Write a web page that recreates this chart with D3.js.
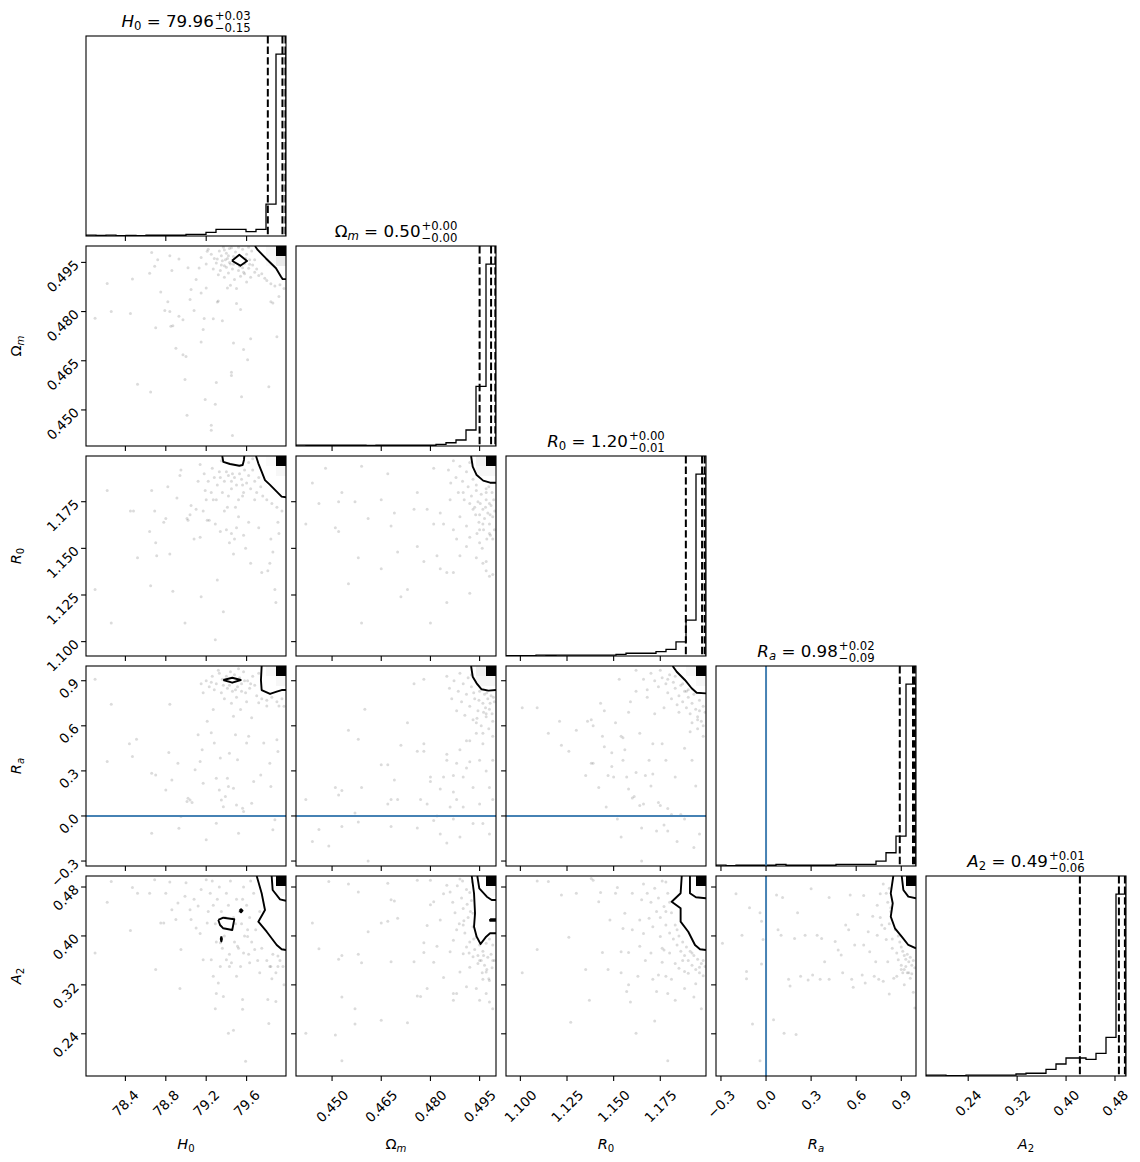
<!DOCTYPE html>
<html><head><meta charset="utf-8">
<script src="https://cdn.jsdelivr.net/npm/d3@7"></script>
<style>body{margin:0;background:#fff;} svg text{font-family:"DejaVu Sans",sans-serif;white-space:pre;}</style>
</head><body><svg id="c" width="1140" height="1162"></svg>
<script>
// ---------------- DATA ----------------
const paramNames = ["H0","Om","R0","Ra","A2"];
const ranges = [[78.01,79.99],[0.439,0.500],[1.0923,1.1995],[-0.333,0.998],[0.171,0.498]];
const tickValues = [[78.4,78.8,79.2,79.6],[0.450,0.465,0.480,0.495],[1.100,1.125,1.150,1.175],[-0.3,0.0,0.3,0.6,0.9],[0.24,0.32,0.40,0.48]];
const tickFormats = [".1f",".3f",".3f",".1f",".2f"];
const truths = [null,null,null,0.0,null];

// histogram counts (20 bins, relative)
const hist_H0 = [5,3,5,2,3,2,4,4,4,4,9,9,20,36,36,36,24,36,175,1000];
const hist_Om = [5,4,4,4,4,4,4,3,4,4,4,4,4,4,9,18,33,88,328,1000];
const hist_R0 = [2,2,2,5,4,5,5,5,5,5,5,9,15,15,15,24,36,78,197,1000];
const hist_Ra = [5,2,4,4,4,4,9,4,4,4,4,4,9,9,9,9,27,73,164,1000];
const hist_A2 = [5,5,2,2,5,5,5,5,5,11,15,15,36,66,99,99,91,124,212,1000];

// quantiles (16, 50, 84 %)
const q_H0 = [79.81,79.955,79.985];
const q_Om = [0.4950,0.4985,0.4998];
const q_R0 = [1.1887,1.1974,1.1988];
const q_Ra = [0.890,0.978,0.990];
const q_A2 = [0.4226,0.4864,0.4962];

// title numbers
const titleMedian = ["79.96","0.50","1.20","0.98","0.49"];
const titlePlus = ["0.03","0.00","0.00","0.02","0.01"];
const titleMinus = ["0.15","0.00","0.01","0.09","0.06"];

// scatter samples per 2D panel [x, y]
const pts_H0_Om = [[78.10,0.478],[78.22,0.4886],[78.26,0.4800],[78.45,0.4794],[78.47,0.4899],[78.52,0.4578],[78.64,0.4917],[78.65,0.4555],[78.66,0.498],[78.69,0.4938],[78.70,0.4751],[78.72,0.4958],[78.75,0.486],[78.79,0.4803],[78.82,0.483],[78.84,0.497],[78.84,0.480],[78.85,0.4755],[78.86,0.4925],[78.87,0.4757],[78.90,0.4688],[78.93,0.4786],[78.93,0.496],[78.97,0.4775],[78.97,0.4668],[78.99,0.4593],[79.00,0.4663],[79.01,0.4484],[79.02,0.4934],[79.04,0.4837],[79.05,0.4867],[79.08,0.4803],[79.10,0.4898],[79.13,0.4933],[79.15,0.4857],[79.15,0.4707],[79.17,0.4745],[79.18,0.4779],[79.19,0.4532],[79.20,0.4872],[79.21,0.4984],[79.25,0.4453],[79.25,0.4438],[79.27,0.4778],[79.29,0.4517],[79.30,0.4584],[79.31,0.4829],[79.32,0.4832],[79.36,0.4772],[79.38,0.4988],[79.41,0.4872],[79.45,0.4615],[79.45,0.4605],[79.46,0.4422],[79.47,0.4704],[79.50,0.4825],[79.54,0.4806],[79.55,0.454],[79.57,0.4684],[79.61,0.4653],[79.64,0.4717],[79.68,0.4958],[79.82,0.4571],[79.84,0.4830],[79.86,0.4826],[79.90,0.4723],[79.92,0.4846],
[79.22,0.4990],[79.25,0.4975],[79.28,0.4962],[79.30,0.4948],[79.33,0.4985],[79.35,0.4970],[79.36,0.4955],[79.38,0.4940],[79.40,0.4978],[79.41,0.4962],[79.43,0.4992],[79.44,0.4945],[79.46,0.4930],[79.47,0.4968],[79.49,0.4982],[79.50,0.4950],[79.52,0.4925],[79.53,0.4938],[79.55,0.4965],[79.56,0.4990],[79.58,0.4946],[79.60,0.4975],[79.62,0.4932],[79.63,0.4958],[79.65,0.4985],[79.66,0.4942],[79.68,0.4920],[79.70,0.4930],[79.72,0.4910],[79.75,0.4915],[79.78,0.4902],[79.80,0.4895],[79.84,0.4885],[79.88,0.4878],[79.93,0.4882],[79.97,0.4870],[79.32,0.4912],[79.38,0.4905],[79.42,0.4918],[79.48,0.4898],[79.54,0.4908],[79.58,0.4915],[79.27,0.4930],[79.45,0.4995],[79.52,0.4996],[79.62,0.4996],[79.37,0.4996],[79.57,0.4920],[79.40,0.4935],[79.64,0.4905],[79.20,0.4945],[79.15,0.4965],[79.34,0.4925],[79.44,0.4880],[79.50,0.4870],[79.60,0.4890],[79.39,0.4958],[79.43,0.4950],[79.47,0.4944],[79.51,0.4962],[79.59,0.4962],[79.63,0.4944],[79.35,0.4942],[79.31,0.4960],[79.42,0.4970],[79.56,0.4934]];

const pts_H0_R0 = [[78.10,1.128],[78.22,1.181],[78.26,1.110],[78.45,1.170],[78.48,1.170],[78.52,1.145],[78.64,1.159],[78.65,1.130],[78.66,1.181],[78.69,1.170],[78.70,1.153],[78.71,1.146],[78.78,1.164],[78.80,1.166],[78.82,1.183],[78.84,1.147],[78.87,1.127],[78.91,1.177],[78.94,1.189],[78.95,1.192],[78.99,1.110],[79.01,1.166],[79.02,1.165],[79.04,1.168],[79.05,1.173],[79.08,1.155],[79.10,1.171],[79.12,1.186],[79.14,1.156],[79.15,1.124],[79.17,1.170],[79.19,1.181],[79.21,1.165],[79.23,1.165],[79.27,1.176],[79.29,1.101],[79.29,1.163],[79.31,1.133],[79.34,1.159],[79.37,1.116],[79.38,1.170],[79.40,1.160],[79.41,1.172],[79.43,1.153],[79.45,1.158],[79.47,1.147],[79.48,1.155],[79.49,1.172],[79.50,1.161],[79.52,1.167],[79.56,1.178],[79.57,1.157],[79.59,1.150],[79.62,1.164],[79.64,1.142],[79.72,1.161],[79.75,1.137],[79.81,1.138],[79.83,1.142],[79.84,1.155],[79.86,1.148],[79.88,1.128],[79.89,1.121],[79.91,1.164],[79.92,1.158],
[79.14,1.195],[79.18,1.190],[79.22,1.186],[79.26,1.193],[79.28,1.188],[79.31,1.184],[79.33,1.191],[79.38,1.186],[79.40,1.191],[79.42,1.189],[79.45,1.186],[79.48,1.188],[79.50,1.184],[79.53,1.190],[79.55,1.187],[79.58,1.192],[79.60,1.185],[79.62,1.189],[79.64,1.182],[79.66,1.192],[79.68,1.186],[79.70,1.180],[79.72,1.188],[79.74,1.183],[79.76,1.178],[79.80,1.176],[79.85,1.174],[79.90,1.172],[79.95,1.170],[79.35,1.197],[79.45,1.182],[79.57,1.180],[79.36,1.180],[79.25,1.180],[79.62,1.196],[79.66,1.198],[79.30,1.176],[79.42,1.178],[79.52,1.176],[79.68,1.176],[79.20,1.176],[79.34,1.188],[79.46,1.190],[79.56,1.184]];

const pts_H0_Ra = [[78.10,0.91],[78.26,0.743],[78.22,0.363],[78.44,0.481],[78.47,0.396],[78.51,0.511],[78.66,-0.115],[78.70,0.273],[78.66,0.284],[78.80,0.173],[78.83,0.423],[78.84,0.743],[78.86,0.240],[78.92,0.351],[78.93,-0.081],[78.95,-0.004],[79.01,0.096],[79.02,0.118],[79.04,0.107],[79.06,0.090],[79.09,0.307],[79.12,0.540],[79.14,0.363],[79.16,0.440],[79.17,0.218],[79.20,-0.159],[79.21,0.631],[79.25,0.553],[79.27,0.709],[79.28,0.486],[79.30,-0.048],[79.30,0.251],[79.33,0.173],[79.34,0.385],[79.35,0.107],[79.37,0.062],[79.39,0.129],[79.41,0.251],[79.42,0.196],[79.43,0.418],[79.47,0.664],[79.47,0.184],[79.49,0.540],[79.50,0.073],[79.51,0.374],[79.52,-0.115],[79.54,0.709],[79.56,0.051],[79.57,0.029],[79.60,0.486],[79.62,0.530],[79.65,0.085],[79.65,0.653],[79.67,0.229],[79.72,0.754],[79.74,0.273],[79.77,0.486],[79.80,0.731],[79.83,0.351],[79.84,0.196],[79.86,-0.092],[79.88,-0.026],[79.90,0.507],[79.91,0.429],[79.92,0.731],
[79.20,0.90],[79.23,0.86],[79.26,0.93],[79.28,0.84],[79.30,0.88],[79.33,0.95],[79.35,0.82],[79.37,0.87],[79.40,0.93],[79.41,0.85],[79.44,0.96],[79.46,0.83],[79.48,0.94],[79.51,0.86],[79.53,0.92],[79.55,0.88],[79.57,0.96],[79.59,0.82],[79.61,0.90],[79.63,0.85],[79.66,0.93],[79.68,0.87],[79.70,0.80],[79.72,0.95],[79.75,0.78],[79.80,0.77],[79.85,0.79],[79.90,0.76],[79.95,0.78],[79.97,0.73],[79.38,0.78],[79.50,0.79],[79.45,0.75],[79.60,0.76],[79.32,0.97],[79.52,0.98],[79.15,0.88],[79.17,0.82],[79.36,0.91],[79.43,0.87],[79.58,0.90],[79.64,0.88],[79.25,0.89],[79.49,0.84],[79.55,0.83]];

const pts_H0_A2 = [[78.10,0.372],[78.22,0.455],[78.26,0.489],[78.45,0.409],[78.52,0.470],[78.47,0.479],[78.64,0.470],[78.69,0.492],[78.70,0.345],[78.75,0.421],[78.78,0.421],[78.80,0.470],[78.84,0.488],[78.86,0.443],[78.90,0.427],[78.92,0.454],[78.94,0.314],[78.95,0.378],[78.99,0.465],[79.00,0.487],[79.04,0.443],[79.05,0.427],[79.08,0.460],[79.10,0.413],[79.12,0.449],[79.14,0.404],[79.15,0.476],[79.17,0.361],[79.20,0.492],[79.21,0.421],[79.25,0.361],[79.27,0.334],[79.29,0.281],[79.30,0.306],[79.32,0.323],[79.34,0.389],[79.37,0.301],[79.40,0.361],[79.42,0.241],[79.43,0.350],[79.45,0.356],[79.47,0.246],[79.50,0.334],[79.51,0.383],[79.56,0.280],[79.56,0.296],[79.57,0.372],[79.59,0.195],[79.61,0.399],[79.63,0.356],[79.68,0.378],[79.73,0.340],[79.81,0.296],[79.82,0.257],[79.84,0.350],[79.89,0.293],[79.91,0.367],[79.91,0.350],
[79.22,0.44],[79.24,0.47],[79.27,0.45],[79.29,0.42],[79.30,0.39],[79.31,0.46],[79.33,0.48],[79.35,0.44],[79.36,0.38],[79.38,0.40],[79.40,0.47],[79.42,0.45],[79.43,0.37],[79.45,0.41],[79.47,0.43],[79.48,0.39],[79.50,0.46],[79.52,0.38],[79.53,0.44],[79.55,0.42],[79.57,0.48],[79.58,0.40],[79.60,0.45],[79.62,0.37],[79.63,0.43],[79.65,0.39],[79.67,0.47],[79.69,0.41],[79.71,0.36],[79.73,0.44],[79.75,0.38],[79.77,0.48],[79.80,0.36],[79.83,0.35],[79.86,0.37],[79.89,0.34],[79.93,0.36],[79.96,0.35],[79.26,0.49],[79.44,0.49],[79.64,0.49],[79.34,0.35],[79.54,0.35],[79.85,0.33],[79.97,0.32],[79.39,0.43],[79.49,0.42],[79.56,0.46],[79.61,0.41]];

const pts_Om_R0 = [[0.442,1.163],[0.444,1.185],[0.446,1.174],[0.448,1.193],[0.451,1.161],[0.452,1.159],[0.452,1.175],[0.453,1.180],[0.455,1.131],[0.457,1.175],[0.458,1.145],[0.459,1.194],[0.459,1.110],[0.461,1.166],[0.465,1.176],[0.465,1.139],[0.467,1.190],[0.468,1.162],[0.469,1.169],[0.470,1.148],[0.471,1.124],[0.473,1.128],[0.475,1.171],[0.476,1.180],[0.476,1.151],[0.478,1.143],[0.479,1.171],[0.480,1.110],[0.481,1.193],[0.481,1.163],[0.482,1.146],[0.483,1.139],[0.483,1.169],[0.484,1.163],[0.485,1.121],[0.485,1.137],[0.486,1.176],[0.487,1.137],[0.487,1.160],[0.488,1.155],[0.489,1.146],[0.489,1.167],[0.490,1.180],[0.491,1.151],[0.491,1.162],[0.492,1.174],[0.492,1.126],[0.492,1.156],[0.493,1.171],[0.494,1.145],[0.494,1.184],[0.495,1.160],[0.495,1.153],[0.496,1.142],[0.496,1.163],[0.497,1.138],[0.497,1.143],[0.498,1.135],[0.498,1.158],[0.499,1.136],[0.499,1.155],[0.498,1.174],[0.497,1.182],[0.497,1.180],
[0.4855,1.192],[0.4862,1.185],[0.4870,1.197],[0.4878,1.188],[0.4885,1.180],[0.4890,1.194],[0.4898,1.186],[0.4903,1.176],[0.4910,1.191],[0.4915,1.183],[0.4920,1.196],[0.4925,1.178],[0.4930,1.187],[0.4935,1.172],[0.4940,1.181],[0.4945,1.175],[0.4950,1.168],[0.4955,1.179],[0.4960,1.171],[0.4965,1.166],[0.4970,1.176],[0.4975,1.169],[0.4980,1.163],[0.4985,1.173],[0.4990,1.167],[0.4995,1.160],[0.4988,1.180],[0.4978,1.183],[0.4962,1.160],[0.4948,1.164],[0.4993,1.176],[0.4983,1.157],[0.4972,1.155],[0.4942,1.158],[0.4958,1.150],[0.4968,1.172],[0.4952,1.174],[0.4982,1.168],[0.4938,1.168],[0.4996,1.170]];

const pts_Om_Ra = [[0.442,0.11],[0.444,-0.17],[0.446,-0.09],[0.449,-0.20],[0.451,0.19],[0.452,0.14],[0.453,0.17],[0.453,-0.07],[0.455,0.57],[0.457,0.02],[0.458,0.51],[0.458,-0.04],[0.459,0.19],[0.460,0.71],[0.461,-0.30],[0.465,0.34],[0.467,0.34],[0.467,0.08],[0.468,-0.07],[0.468,0.11],[0.469,0.24],[0.470,0.11],[0.471,0.47],[0.473,0.62],[0.475,0.88],[0.476,-0.08],[0.476,0.43],[0.477,0.11],[0.478,0.43],[0.478,0.48],[0.478,0.91],[0.479,0.08],[0.480,0.26],[0.480,0.23],[0.481,-0.03],[0.482,0.00],[0.483,0.18],[0.483,-0.12],[0.484,0.26],[0.485,0.37],[0.485,0.41],[0.485,-0.18],[0.486,0.06],[0.487,0.16],[0.487,0.27],[0.487,-0.02],[0.488,0.35],[0.488,0.11],[0.489,-0.14],[0.489,0.44],[0.490,0.06],[0.490,0.26],[0.491,0.50],[0.491,0.32],[0.492,0.36],[0.492,0.50],[0.493,0.19],[0.493,-0.05],[0.494,0.55],[0.494,0.62],[0.495,0.37],[0.495,0.08],[0.496,0.48],[0.496,-0.05],[0.496,0.55],[0.497,0.68],[0.497,0.30],[0.498,0.19],[0.498,-0.12],[0.499,0.37],[0.499,0.53],[0.499,0.11],
[0.4850,0.93],[0.4858,0.85],[0.4865,0.78],[0.4872,0.90],[0.4880,0.70],[0.4885,0.83],[0.4890,0.95],[0.4895,0.76],[0.4900,0.88],[0.4905,0.67],[0.4910,0.81],[0.4915,0.92],[0.4920,0.73],[0.4925,0.86],[0.4930,0.64],[0.4935,0.78],[0.4940,0.89],[0.4945,0.70],[0.4950,0.83],[0.4955,0.60],[0.4960,0.75],[0.4965,0.81],[0.4970,0.66],[0.4975,0.78],[0.4980,0.71],[0.4985,0.80],[0.4990,0.63],[0.4995,0.76],[0.4978,0.58],[0.4962,0.69],[0.4948,0.77],[0.4938,0.96],[0.4925,0.94],[0.4968,0.72],[0.4988,0.68],[0.4992,0.79],[0.4952,0.91],[0.4942,0.65],[0.4982,0.75],[0.4972,0.82],[0.4958,0.85],[0.4932,0.82]];

const pts_R0_Ra = [[1.101,0.72],[1.109,0.72],[1.115,0.55],[1.121,0.63],[1.122,0.47],[1.126,0.43],[1.130,0.57],[1.135,0.27],[1.136,0.63],[1.138,0.64],[1.138,0.35],[1.139,0.35],[1.139,0.60],[1.142,0.19],[1.143,0.75],[1.144,0.53],[1.145,0.70],[1.145,0.46],[1.146,0.06],[1.147,0.27],[1.149,0.42],[1.149,0.33],[1.150,0.26],[1.151,0.62],[1.152,-0.02],[1.153,0.91],[1.154,0.53],[1.154,-0.14],[1.155,0.52],[1.155,0.37],[1.156,0.44],[1.157,0.26],[1.158,0.18],[1.158,0.69],[1.159,0.76],[1.160,0.12],[1.161,0.13],[1.162,0.83],[1.162,0.29],[1.164,0.55],[1.164,0.07],[1.165,-0.08],[1.165,-0.30],[1.166,0.08],[1.167,0.27],[1.168,0.79],[1.169,0.37],[1.170,0.20],[1.171,0.28],[1.171,0.48],[1.172,0.68],[1.173,-0.10],[1.174,0.09],[1.175,0.07],[1.176,0.48],[1.177,-0.06],[1.178,0.37],[1.179,-0.10],[1.179,0.05],[1.181,0.01],[1.183,0.26],[1.184,-0.17],[1.186,0.01],[1.188,0.45],[1.188,-0.02],[1.189,0.83],[1.191,0.56],[1.192,0.37],[1.193,-0.21],[1.194,0.20],[1.195,0.64],[1.196,-0.12],[1.198,0.53],
[1.170,0.95],[1.172,0.90],[1.174,0.86],[1.175,0.97],[1.176,0.92],[1.178,0.88],[1.179,0.82],[1.180,0.94],[1.181,0.78],[1.182,0.89],[1.183,0.85],[1.184,0.74],[1.185,0.80],[1.186,0.87],[1.187,0.76],[1.188,0.83],[1.189,0.72],[1.190,0.79],[1.191,0.68],[1.192,0.75],[1.193,0.81],[1.194,0.71],[1.195,0.66],[1.196,0.77],[1.197,0.63],[1.198,0.73],[1.199,0.69],[1.166,0.91],[1.162,0.97],[1.168,0.84],[1.177,0.72],[1.185,0.69],[1.195,0.58],[1.192,0.62],[1.198,0.60],[1.179,0.91],[1.183,0.93],[1.187,0.88],[1.190,0.84],[1.196,0.70]];

const pts_Om_A2 = [[0.442,0.241],[0.444,0.421],[0.446,0.379],[0.449,0.489],[0.451,0.238],[0.452,0.362],[0.453,0.368],[0.453,0.300],[0.453,0.196],[0.455,0.485],[0.457,0.281],[0.457,0.256],[0.458,0.472],[0.458,0.370],[0.459,0.356],[0.461,0.407],[0.465,0.262],[0.465,0.421],[0.467,0.486],[0.467,0.424],[0.468,0.459],[0.468,0.358],[0.469,0.457],[0.470,0.429],[0.473,0.258],[0.475,0.358],[0.476,0.491],[0.476,0.302],[0.477,0.301],[0.478,0.389],[0.478,0.373],[0.479,0.314],[0.479,0.417],[0.480,0.491],[0.480,0.451],[0.481,0.456],[0.481,0.357],[0.482,0.383],[0.483,0.426],[0.484,0.469],[0.484,0.332],[0.485,0.483],[0.486,0.374],[0.487,0.393],[0.487,0.306],[0.487,0.295],[0.488,0.410],[0.488,0.306],[0.489,0.341],[0.489,0.493],[0.490,0.371],[0.490,0.418],[0.491,0.317],[0.491,0.382],[0.492,0.471],[0.492,0.349],[0.493,0.366],[0.493,0.437],[0.494,0.314],[0.495,0.360],[0.495,0.295],[0.496,0.329],[0.497,0.306],[0.498,0.292],[0.499,0.360],[0.499,0.281],[0.498,0.327],[0.497,0.341],
[0.4860,0.472],[0.4868,0.455],[0.4875,0.438],[0.4882,0.482],[0.4888,0.420],[0.4895,0.462],[0.4900,0.445],[0.4905,0.405],[0.4910,0.476],[0.4915,0.430],[0.4920,0.390],[0.4925,0.458],[0.4930,0.415],[0.4935,0.378],[0.4940,0.398],[0.4945,0.368],[0.4950,0.385],[0.4955,0.360],[0.4960,0.375],[0.4965,0.352],[0.4970,0.388],[0.4975,0.365],[0.4980,0.395],[0.4985,0.370],[0.4990,0.385],[0.4995,0.360],[0.4972,0.345],[0.4958,0.340],[0.4988,0.348],[0.4945,0.355],[0.4918,0.372],[0.4928,0.488],[0.4898,0.490],[0.4978,0.330],[0.4912,0.452],[0.4922,0.440],[0.4902,0.425],[0.4932,0.395],[0.4962,0.368]];

const pts_R0_A2 = [[1.101,0.340],[1.109,0.490],[1.109,0.378],[1.115,0.489],[1.122,0.467],[1.126,0.398],[1.127,0.259],[1.130,0.470],[1.135,0.345],[1.137,0.295],[1.138,0.494],[1.139,0.491],[1.142,0.456],[1.143,0.471],[1.144,0.373],[1.147,0.345],[1.148,0.426],[1.151,0.470],[1.152,0.479],[1.154,0.340],[1.154,0.374],[1.155,0.412],[1.156,0.437],[1.157,0.309],[1.158,0.320],[1.158,0.373],[1.159,0.292],[1.160,0.410],[1.160,0.470],[1.162,0.241],[1.163,0.334],[1.164,0.383],[1.164,0.426],[1.165,0.459],[1.166,0.404],[1.167,0.360],[1.169,0.429],[1.170,0.372],[1.171,0.329],[1.171,0.415],[1.172,0.261],[1.173,0.309],[1.174,0.336],[1.175,0.399],[1.176,0.357],[1.177,0.377],[1.178,0.334],[1.179,0.306],[1.179,0.196],[1.180,0.372],[1.181,0.329],[1.183,0.295],[1.185,0.347],[1.187,0.360],[1.188,0.314],[1.190,0.339],[1.192,0.372],[1.193,0.300],[1.194,0.322],[1.196,0.349],[1.197,0.281],[1.198,0.360],
[1.166,0.485],[1.168,0.470],[1.170,0.455],[1.172,0.478],[1.173,0.440],[1.174,0.462],[1.175,0.430],[1.176,0.490],[1.177,0.448],[1.178,0.418],[1.179,0.470],[1.180,0.405],[1.181,0.438],[1.182,0.395],[1.183,0.418],[1.184,0.385],[1.185,0.400],[1.186,0.375],[1.187,0.390],[1.188,0.368],[1.189,0.382],[1.190,0.360],[1.191,0.375],[1.192,0.352],[1.193,0.368],[1.194,0.345],[1.195,0.362],[1.196,0.340],[1.197,0.355],[1.198,0.335],[1.199,0.350],[1.178,0.488],[1.183,0.355],[1.188,0.342],[1.176,0.380],[1.180,0.455],[1.178,0.440],[1.184,0.410]];

const pts_Ra_A2 = [[-0.29,0.388],[-0.20,0.469],[-0.16,0.401],[-0.13,0.342],[-0.13,0.330],[-0.11,0.446],[-0.09,0.256],[-0.04,0.438],[-0.04,0.196],[-0.03,0.424],[-0.03,0.354],[-0.02,0.394],[0.05,0.263],[0.07,0.467],[0.08,0.410],[0.10,0.401],[0.11,0.463],[0.12,0.241],[0.15,0.329],[0.16,0.318],[0.19,0.396],[0.20,0.239],[0.21,0.438],[0.23,0.334],[0.26,0.401],[0.28,0.328],[0.30,0.477],[0.31,0.336],[0.34,0.401],[0.36,0.329],[0.37,0.396],[0.39,0.358],[0.42,0.329],[0.42,0.463],[0.46,0.391],[0.48,0.377],[0.50,0.369],[0.51,0.340],[0.53,0.418],[0.55,0.410],[0.56,0.467],[0.57,0.329],[0.58,0.316],[0.59,0.385],[0.61,0.435],[0.64,0.336],[0.65,0.385],[0.65,0.466],[0.66,0.323],[0.68,0.407],[0.69,0.374],[0.71,0.432],[0.72,0.334],[0.73,0.358],[0.74,0.401],[0.75,0.329],[0.76,0.469],[0.77,0.418],[0.78,0.326],[0.80,0.394],[0.81,0.358],[0.82,0.305],[0.83,0.446],[0.84,0.380],[0.85,0.331],[0.86,0.413],[0.87,0.334],[0.88,0.361],[0.90,0.345],[0.91,0.340],[0.92,0.320],[0.93,0.350],[0.94,0.340],[0.96,0.331],[0.98,0.308],[0.99,0.282],
[0.78,0.485],[0.80,0.470],[0.81,0.455],[0.82,0.478],[0.83,0.440],[0.84,0.462],[0.85,0.425],[0.86,0.490],[0.86,0.410],[0.87,0.448],[0.88,0.400],[0.88,0.472],[0.89,0.390],[0.90,0.382],[0.91,0.375],[0.92,0.368],[0.93,0.362],[0.94,0.370],[0.95,0.358],[0.96,0.365],[0.97,0.352],[0.98,0.360],[0.99,0.348],[0.76,0.430],[0.74,0.450],[0.79,0.412],[0.84,0.395],[0.90,0.352],[0.87,0.372],[0.95,0.340],[0.97,0.338],[0.92,0.345],[0.82,0.420]];

// contour lines per 2D panel (data coordinates)
const cont_H0_Om = [
 [[79.683,0.500],[79.710,0.4988],[79.792,0.4962],[79.891,0.4932],[79.941,0.4906],[79.957,0.4899],[79.99,0.4899]],
 [[79.455,0.4955],[79.528,0.4973],[79.604,0.4954],[79.538,0.4940],[79.455,0.4955]]];
const cont_H0_R0 = [
 [[79.359,1.1995],[79.369,1.1964],[79.436,1.1952],[79.528,1.1943],[79.561,1.1947],[79.574,1.1974],[79.577,1.1995]],
 [[79.693,1.1995],[79.716,1.1956],[79.749,1.1911],[79.782,1.1866],[79.832,1.1840],[79.898,1.1804],[79.947,1.1777],[79.99,1.1774]]];
const cont_H0_Ra = [
 [[79.369,0.905],[79.458,0.920],[79.542,0.905],[79.458,0.887],[79.369,0.905]],
 [[79.749,0.998],[79.742,0.905],[79.749,0.838],[79.832,0.812],[79.898,0.827],[79.947,0.838],[79.99,0.838]]];
const cont_H0_A2 = [
 [[79.700,0.498],[79.749,0.4697],[79.782,0.4424],[79.716,0.4233],[79.799,0.4069],[79.898,0.3852],[79.947,0.3782],[79.99,0.377]],
 [[79.848,0.498],[79.858,0.4751],[79.931,0.4599],[79.99,0.4576]],
 [[79.320,0.4261],[79.369,0.4298],[79.478,0.4272],[79.458,0.4097],[79.369,0.4125],[79.337,0.4179],[79.320,0.4261]],
 [[79.530,0.4413],[79.545,0.4438],[79.560,0.4413],[79.545,0.4388],[79.530,0.4413]],
 [[79.350,0.399],[79.356,0.395],[79.350,0.391],[79.344,0.395],[79.350,0.399]]];
const cont_Om_R0 = [
 [[0.4924,1.1995],[0.4929,1.1938],[0.4941,1.1893],[0.4961,1.1863],[0.4982,1.1852],[0.500,1.1852]]];
const cont_Om_Ra = [
 [[0.4924,0.998],[0.4929,0.927],[0.4941,0.883],[0.4956,0.843],[0.4977,0.834],[0.500,0.838]]];
const cont_R0_Ra = [
 [[1.1816,0.998],[1.1838,0.960],[1.1882,0.905],[1.1918,0.850],[1.1945,0.820],[1.1995,0.816]]];
const cont_Om_A2 = [
 [[0.4926,0.498],[0.4933,0.4697],[0.4936,0.437],[0.4933,0.4151],[0.4941,0.3988],[0.4953,0.3868],[0.4970,0.3988],[0.4982,0.4043],[0.500,0.4043]],
 [[0.4943,0.498],[0.4949,0.4779],[0.4972,0.4642],[0.4987,0.4588],[0.500,0.4588]],
 [[0.4982,0.4275],[0.4998,0.4275],[0.4998,0.4247],[0.4982,0.4247],[0.4982,0.4275]]];
const cont_R0_A2 = [
 [[1.1865,0.498],[1.1859,0.4697],[1.1811,0.456],[1.1859,0.4452],[1.1859,0.4233],[1.190,0.4069],[1.1936,0.3852],[1.1963,0.3782],[1.1995,0.377]],
 [[1.1909,0.498],[1.1909,0.4697],[1.1941,0.4632],[1.1995,0.4616]]];
const cont_Ra_A2 = [
 [[0.847,0.498],[0.830,0.4697],[0.843,0.4534],[0.830,0.4315],[0.858,0.4125],[0.903,0.3988],[0.947,0.3852],[0.998,0.3798]],
 [[0.903,0.498],[0.914,0.4751],[0.947,0.4642],[0.998,0.4616]]];

// high-density 2D bins near the top-right corner: [bins from right, bins from top, darkness]
const dens_H0_Om = [[0,0,1],[1,0,0.03],[0,1,0.08],[1,1,0.02]];
const dens_H0_R0 = [[0,0,1],[0,1,0.03],[1,0,0.02]];
const dens_H0_Ra = [[0,0,1],[1,0,0.03],[0,1,0.03]];
const dens_H0_A2 = [[0,0,1],[0,1,0.02]];
const dens_Om_R0 = [[0,0,1],[1,0,0.05],[1,1,0.03],[0,1,0.03]];
const dens_Om_Ra = [[0,0,1],[1,0,0.06],[1,1,0.03],[0,1,0.03]];
const dens_R0_Ra = [[0,0,1],[1,0,0.03],[0,1,0.03]];
const dens_Om_A2 = [[0,0,1],[0,1,0.02]];
const dens_R0_A2 = [[0,0,1],[0,1,0.02]];
const dens_Ra_A2 = [[0,0,1],[0,1,0.02]];

// ---------------- LAYOUT / DRAW ----------------
const hists = [hist_H0,hist_Om,hist_R0,hist_Ra,hist_A2];
const quants = [q_H0,q_Om,q_R0,q_Ra,q_A2];
const panels2d = [
 {c:0,r:1,pts:pts_H0_Om,cont:cont_H0_Om,dens:dens_H0_Om},
 {c:0,r:2,pts:pts_H0_R0,cont:cont_H0_R0,dens:dens_H0_R0},
 {c:0,r:3,pts:pts_H0_Ra,cont:cont_H0_Ra,dens:dens_H0_Ra},
 {c:0,r:4,pts:pts_H0_A2,cont:cont_H0_A2,dens:dens_H0_A2},
 {c:1,r:2,pts:pts_Om_R0,cont:cont_Om_R0,dens:dens_Om_R0},
 {c:1,r:3,pts:pts_Om_Ra,cont:cont_Om_Ra,dens:dens_Om_Ra},
 {c:1,r:4,pts:pts_Om_A2,cont:cont_Om_A2,dens:dens_Om_A2},
 {c:2,r:3,pts:pts_R0_Ra,cont:cont_R0_Ra,dens:dens_R0_Ra},
 {c:2,r:4,pts:pts_R0_A2,cont:cont_R0_A2,dens:dens_R0_A2},
 {c:3,r:4,pts:pts_Ra_A2,cont:cont_Ra_A2,dens:dens_Ra_A2}];

const labelParts = [
 [{t:"H",it:1},{t:"0",sub:1}],
 [{t:"\u03A9"},{t:"m",sub:1,it:1}],
 [{t:"R",it:1},{t:"0",sub:1}],
 [{t:"R",it:1},{t:"a",sub:1,it:1}],
 [{t:"A",it:1},{t:"2",sub:1}]];

const PS = 200, GAP = 10, X0 = 86, Y0 = 36, K = 5;
const TICKF = 13.5, LABF = 14.5, TITF = 16.7, SCRF = 11.7;
const svg = d3.select("#c");
svg.append("rect").attr("width",1140).attr("height",1162).attr("fill","#fff");
const defs = svg.append("defs");

const xScale = i => d3.scaleLinear().domain(ranges[i]).range([X0+i*(PS+GAP), X0+i*(PS+GAP)+PS]);
const yScale = (i,row) => d3.scaleLinear().domain(ranges[i]).range([Y0+row*(PS+GAP)+PS, Y0+row*(PS+GAP)]);
const px = c => X0 + c*(PS+GAP);
const py = r => Y0 + r*(PS+GAP);

function clipFor(c,r){
  const id = "clip"+c+"_"+r;
  defs.append("clipPath").attr("id",id).append("rect").attr("x",px(c)).attr("y",py(r)).attr("width",PS).attr("height",PS);
  return "url(#"+id+")";
}

function mathText(sel, parts, fs){
  let prevSub = false;
  const sh = fs*0.22;
  parts.forEach(p=>{
    const ts = sel.append("tspan").text(p.t)
      .attr("font-style", p.it ? "italic" : "normal")
      .attr("font-size", p.sub ? fs*0.7 : fs);
    if (p.sub && !prevSub) ts.attr("dy", sh);
    else if (!p.sub && prevSub) ts.attr("dy", -sh);
    prevSub = !!p.sub;
  });
}

const tickLen = 4.9;

// ---------- 2D panels ----------
panels2d.forEach(p=>{
  const xs = xScale(p.c), ys = yScale(p.r, p.r);
  const g = svg.append("g").attr("clip-path", clipFor(p.c,p.r));
  g.selectAll("circle.pt").data(p.pts).join("circle")
    .attr("cx",d=>xs(d[0])).attr("cy",d=>ys(d[1])).attr("r",1.5)
    .attr("fill","#000").attr("fill-opacity",0.14);
  const xr = ranges[p.c], yr = ranges[p.r];
  const tolx = (xr[1]-xr[0])*0.01, toly = (yr[1]-yr[0])*0.01;
  const line = d3.line().x(d=>xs(d[0])).y(d=>ys(d[1]));
  // white masks
  p.cont.forEach(cn=>{
    let poly = cn.slice();
    const f = cn[0], l = cn[cn.length-1];
    if (Math.abs(f[1]-yr[1])<toly && Math.abs(l[0]-xr[1])<tolx) poly.push([xr[1],yr[1]]);
    g.append("path").attr("d", line(poly)+"Z").attr("fill","#fff").attr("stroke","none");
  });
  // density bins
  const bwx = (xr[1]-xr[0])/20, bwy = (yr[1]-yr[0])/20;
  p.dens.forEach(d=>{
    const x1 = xr[1]-d[0]*bwx, x0 = x1-bwx, y1 = yr[1]-d[1]*bwy, y0 = y1-bwy;
    g.append("rect").attr("x",xs(x0)).attr("y",ys(y1)).attr("width",xs(x1)-xs(x0)).attr("height",ys(y0)-ys(y1))
      .attr("fill","#000").attr("fill-opacity",d[2]);
  });
  // contour strokes
  p.cont.forEach(cn=>{
    g.append("path").attr("d", line(cn)).attr("fill","none").attr("stroke","#000")
      .attr("stroke-width",1.9).attr("stroke-linejoin","round");
  });
  // truths
  if (truths[p.c]!==null) g.append("line").attr("x1",xs(truths[p.c])).attr("x2",xs(truths[p.c]))
      .attr("y1",py(p.r)).attr("y2",py(p.r)+PS).attr("stroke","#4682b4").attr("stroke-width",2);
  if (truths[p.r]!==null) g.append("line").attr("y1",ys(truths[p.r])).attr("y2",ys(truths[p.r]))
      .attr("x1",px(p.c)).attr("x2",px(p.c)+PS).attr("stroke","#4682b4").attr("stroke-width",2);
  // y ticks
  tickValues[p.r].forEach(v=>{
    svg.append("line").attr("x1",px(p.c)-tickLen).attr("x2",px(p.c)).attr("y1",ys(v)).attr("y2",ys(v))
      .attr("stroke","#000").attr("stroke-width",1.1);
  });
});

// ---------- histograms ----------
for (let i=0;i<K;i++){
  const xs = xScale(i);
  const h = hists[i];
  const ymax = d3.max(h)*1.1;
  const ys = d3.scaleLinear().domain([0,ymax]).range([py(i)+PS, py(i)]);
  const r = ranges[i], bw = (r[1]-r[0])/h.length;
  const stepPts = [[r[0],0]];
  h.forEach((v,k)=>{ stepPts.push([r[0]+k*bw, v]); stepPts.push([r[0]+(k+1)*bw, v]); });
  stepPts.push([r[1],0]);
  const g = svg.append("g").attr("clip-path", clipFor(i,i));
  g.append("path").attr("d", d3.line().x(d=>xs(d[0])).y(d=>ys(d[1]))(stepPts))
    .attr("fill","none").attr("stroke","#000").attr("stroke-width",1.3);
  quants[i].forEach(q=>{
    g.append("line").attr("x1",xs(q)).attr("x2",xs(q)).attr("y1",py(i)).attr("y2",py(i)+PS)
      .attr("stroke","#000").attr("stroke-width",2).attr("stroke-dasharray","7.4,3.2");
  });
  if (truths[i]!==null) g.append("line").attr("x1",xs(truths[i])).attr("x2",xs(truths[i]))
      .attr("y1",py(i)).attr("y2",py(i)+PS).attr("stroke","#4682b4").attr("stroke-width",2);

  // title
  const tg = svg.append("g");
  const mainT = tg.append("text").attr("x",0).attr("y",0).attr("fill","#000").attr("font-size",TITF);
  mathText(mainT, labelParts[i].concat([{t:" = "+titleMedian[i]}]), TITF);
  const L = mainT.node().getComputedTextLength();
  const supT = tg.append("text").attr("x",L+1).attr("y",-6.7).attr("font-size",SCRF).attr("fill","#000").text("+"+titlePlus[i]);
  const subT = tg.append("text").attr("x",L+1).attr("y",5).attr("font-size",SCRF).attr("fill","#000").text("\u2212"+titleMinus[i]);
  const tot = L + 1 + Math.max(supT.node().getComputedTextLength(), subT.node().getComputedTextLength());
  tg.attr("transform","translate("+(px(i)+PS/2-tot/2)+","+(py(i)-9.3)+")");
}

// ---------- spines, x ticks, labels ----------
for (let r=0;r<K;r++){
  for (let c=0;c<=r;c++){
    svg.append("rect").attr("x",px(c)).attr("y",py(r)).attr("width",PS).attr("height",PS)
      .attr("fill","none").attr("stroke","#000").attr("stroke-width",1.1);
    const xs = xScale(c);
    tickValues[c].forEach(v=>{
      svg.append("line").attr("x1",xs(v)).attr("x2",xs(v)).attr("y1",py(r)+PS).attr("y2",py(r)+PS+tickLen)
        .attr("stroke","#000").attr("stroke-width",1.1);
    });
  }
}
// bottom x tick labels
const bottom = py(K-1)+PS;
for (let c=0;c<K;c++){
  const xs = xScale(c), fmt = d3.format(tickFormats[c]);
  tickValues[c].forEach(v=>{
    const t = svg.append("text").attr("font-size",TICKF).attr("fill","#000")
      .attr("text-anchor","middle").attr("dominant-baseline","central").text(fmt(v).replace("-","\u2212"));
    const w = t.node().getComputedTextLength();
    const cy = bottom + 16.5 + w*0.3535;
    t.attr("transform","translate("+xs(v)+","+cy+") rotate(-45)");
  });
  const lt = svg.append("text").attr("x",px(c)+PS/2).attr("y",1149).attr("text-anchor","middle")
    .attr("font-size",LABF).attr("fill","#000");
  mathText(lt, labelParts[c], LABF);
}
// left y tick labels
for (let r=1;r<K;r++){
  const ys = yScale(r,r), fmt = d3.format(tickFormats[r]);
  tickValues[r].forEach(v=>{
    svg.append("text").attr("font-size",TICKF).attr("fill","#000")
      .attr("text-anchor","end").attr("dominant-baseline","central")
      .attr("transform","translate("+(X0-9.7)+","+ys(v)+") rotate(-45)")
      .text(fmt(v).replace("-","\u2212"));
  });
  const lt = svg.append("text").attr("text-anchor","middle").attr("font-size",LABF).attr("fill","#000")
    .attr("transform","translate(21,"+(py(r)+PS/2)+") rotate(-90)");
  mathText(lt, labelParts[r], LABF);
}
</script></body></html>
